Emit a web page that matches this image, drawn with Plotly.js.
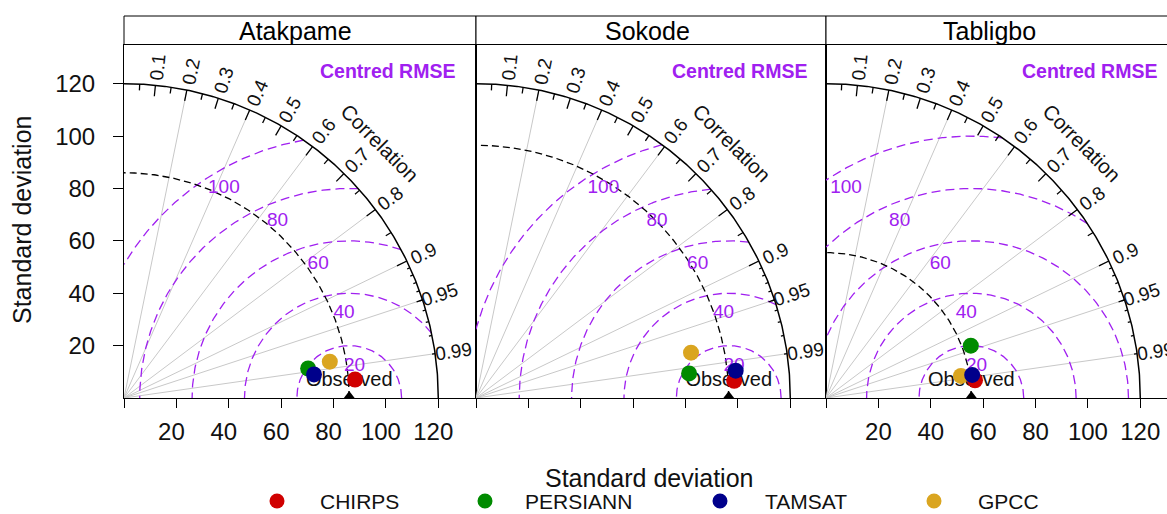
<!DOCTYPE html>
<html><head><meta charset="utf-8">
<script src="https://cdn.plot.ly/plotly-3.0.1.min.js"></script>
<style>html,body{margin:0;padding:0;background:#fff}</style>
</head><body><div id="chart" style="width:1167px;height:514px"></div>
<script>
// ---------------- data ----------------
const stations = ['Atakpame', 'Sokode', 'Tabligbo'];
const observedSD = [86, 96.5, 55.5];
const products = ['CHIRPS', 'PERSIANN', 'TAMSAT', 'GPCC'];
const productColors = ['#D00000', '#008B00', '#00008B', '#DAA520'];
const chirpsSD = [88.5, 98.8, 57.3];
const chirpsCor = [0.9968, 0.9978, 0.9930];
const persiannSD = [71.2, 81.9, 58.8];
const persiannCor = [0.9874, 0.9934, 0.9404];
const tamsatSD = [73.1, 99.7, 56.5];
const tamsatCor = [0.9924, 0.9945, 0.9878];
const gpccSD = [79.8, 83.9, 52.2];
const gpccCor = [0.9848, 0.9785, 0.9869];
const sdTicks = [0, 20, 40, 60, 80, 100, 120];
const sdTickLabels = ['', '20', '40', '60', '80', '100', '120'];
const corLabels = [0.1, 0.2, 0.3, 0.4, 0.5, 0.6, 0.7, 0.8, 0.9, 0.95, 0.99];
const corGridLines = [0.2, 0.4, 0.6, 0.8, 0.9, 0.95, 0.99];
const rmsLevels = [20, 40, 60, 80, 100];
const maxSD = 120;

// ---------------- layout constants ----------------
const W = 1167, H = 514;
const FONT = 'Liberation Sans, Arial, sans-serif';
const PURPLE = '#A020F0';
const pxPerUnit = 352 / 134.4;
const panelLeft = [124, 476, 826];
const panelRight = [476, 826, 1167];
const panelTop = 44.5, panelBottom = 398;
const yMax = (panelBottom - panelTop) / pxPerUnit;

const seriesSD = [chirpsSD, persiannSD, tamsatSD, gpccSD];
const seriesCor = [chirpsCor, persiannCor, tamsatCor, gpccCor];
const drawOrder = [0, 1, 3, 2];

const traces = [];
const annotations = [];
const shapes = [];
const layout = {
  width: W, height: H, margin: {l: 0, r: 0, t: 0, b: 0},
  paper_bgcolor: '#fff', plot_bgcolor: 'rgba(0,0,0,0)', showlegend: false,
  font: {family: FONT, color: '#111'}
};

function arcPts(cx, r, a0, a1, n) {
  const xs = [], ys = [];
  for (let k = 0; k <= n; k++) {
    const a = a0 + (a1 - a0) * k / n;
    xs.push(cx + r * Math.cos(a)); ys.push(r * Math.sin(a));
  }
  return [xs, ys];
}

stations.forEach((st, i) => {
  const sfx = i === 0 ? '' : String(i + 1);
  const xa = 'x' + sfx, ya = 'y' + sfx;
  const obs = observedSD[i];
  const xMax = (panelRight[i] - panelLeft[i]) / pxPerUnit;
  const common = {xaxis: xa, yaxis: ya, hoverinfo: 'skip', showlegend: false};

  // axes
  layout['xaxis' + sfx] = {
    domain: [panelLeft[i] / W, panelRight[i] / W], range: [0, xMax], anchor: ya,
    showgrid: false, zeroline: false, showline: true, mirror: true, linecolor: '#000', linewidth: 1,
    ticks: 'outside', ticklen: 9, tickcolor: '#000', tickwidth: 1,
    tickvals: sdTicks, ticktext: sdTickLabels, showticklabels: i !== 1,
    ticklabelshift: i === 0 ? -5 : 0, ticklabelstandoff: 3,
    tickfont: {family: FONT, size: 24, color: '#111'}, fixedrange: true
  };
  layout['yaxis' + sfx] = {
    domain: [1 - panelBottom / H, 1 - panelTop / H], range: [0, yMax], anchor: xa,
    showgrid: false, zeroline: false, showline: true, mirror: i !== 2, linecolor: '#000', linewidth: 1,
    ticks: i === 0 ? 'outside' : '', ticklen: 10, tickcolor: '#000', tickwidth: 1,
    tickvals: sdTicks.slice(1), ticktext: sdTickLabels.slice(1), showticklabels: i === 0,
    ticklabelstandoff: 13,
    tickfont: {family: FONT, size: 24, color: '#111'}, fixedrange: true
  };

  // radial correlation grid lines
  const rx = [], ry = [];
  corGridLines.forEach(c => {
    const t = Math.acos(c);
    rx.push(0, maxSD * Math.cos(t), null); ry.push(0, maxSD * Math.sin(t), null);
  });
  traces.push(Object.assign({x: rx, y: ry, mode: 'lines', line: {color: '#c8c8c8', width: 1}}, common));

  // centred RMSE contours
  rmsLevels.forEach(g => {
    const c1 = (maxSD * maxSD - obs * obs - g * g) / (2 * obs * g);
    const a0 = c1 >= 1 ? 0 : Math.acos(Math.max(-1, c1));
    const c2 = -obs / g;
    const a1 = c2 <= -1 ? Math.PI : Math.acos(c2);
    const [xs, ys] = arcPts(obs, g, a0, a1, 200);
    traces.push(Object.assign({x: xs, y: ys, mode: 'lines', line: {color: PURPLE, width: 1.3, dash: '9px,5px'}}, common));
  });

  // observed SD arc
  {
    const [xs, ys] = arcPts(0, obs, 0, Math.PI / 2, 200);
    traces.push(Object.assign({x: xs, y: ys, mode: 'lines', line: {color: '#000', width: 1.3, dash: '7px,4px'}}, common));
  }
  // outer arc
  {
    const [xs, ys] = arcPts(0, maxSD, 0, Math.PI / 2, 300);
    traces.push(Object.assign({x: xs, y: ys, mode: 'lines', line: {color: '#000', width: 1.5}}, common));
  }
  // correlation ticks
  {
    const tx = [], ty = [];
    const addTicks = (vals, f) => vals.forEach(c => {
      const t = Math.acos(c);
      tx.push(maxSD * Math.cos(t), f * maxSD * Math.cos(t), null);
      ty.push(maxSD * Math.sin(t), f * maxSD * Math.sin(t), null);
    });
    const big = [], med = [], sml = [];
    for (let k = 1; k <= 9; k++) big.push(k / 10);
    for (let k = 0; k <= 9; k++) med.push(0.05 + k / 10);
    for (let k = 1; k <= 9; k++) sml.push(0.9 + k / 100);
    addTicks(big, 0.965); addTicks(med, 0.98); addTicks(sml, 0.99);
    traces.push(Object.assign({x: tx, y: ty, mode: 'lines', line: {color: '#000', width: 1.3}}, common));
  }

  // contour labels (below the curve point)
  {
    const lx = [], ly = [], lt = [];
    rmsLevels.forEach((g, j) => {
      const a = (44 + 5 * (j + 1)) * 0.03;
      lx.push(obs + g * Math.cos(a)); ly.push(g * Math.sin(a) - 20 / pxPerUnit); lt.push(String(g));
    });
    traces.push(Object.assign({x: lx, y: ly, text: lt, mode: 'text', textposition: 'middle center',
      textfont: {family: FONT, size: 19, color: PURPLE}}, common));
  }
  // Observed label
  traces.push(Object.assign({x: [obs], y: [17 / pxPerUnit], text: ['Observed'], mode: 'text',
    textposition: 'middle center', textfont: {family: FONT, size: 20, color: '#111'}}, common));
  // Observed marker
  traces.push(Object.assign({x: [obs], y: [0], mode: 'markers', cliponaxis: true,
    marker: {symbol: 'triangle-up', size: 14, color: '#000'}}, common));

  // product points
  drawOrder.forEach(p => {
    const sd = seriesSD[p][i], r = seriesCor[p][i];
    traces.push(Object.assign({x: [sd * r], y: [sd * Math.sqrt(1 - r * r)], mode: 'markers',
      marker: {size: 16, color: productColors[p], line: {width: 0}}, name: products[p]}, common));
  });

  // correlation labels
  corLabels.forEach(c => {
    const t = Math.acos(c);
    annotations.push({xref: xa, yref: ya, x: 127 * Math.cos(t), y: 127 * Math.sin(t), text: String(c),
      showarrow: false, textangle: -t * 180 / Math.PI, xanchor: 'center', yanchor: 'middle',
      font: {family: FONT, size: 19, color: '#111'}});
  });
  annotations.push({xref: xa, yref: ya, x: 138 * Math.cos(Math.PI / 4), y: 138 * Math.sin(Math.PI / 4),
    text: 'Correlation', showarrow: false, textangle: 45, font: {family: FONT, size: 20.5, color: '#111'}});
  annotations.push({xref: xa, yref: ya, x: 100.6, y: 125, text: '<b>Centred RMSE</b>', showarrow: false,
    font: {family: FONT, size: 19.5, color: PURPLE}});

  // strip
  shapes.push({type: 'rect', xref: 'paper', yref: 'paper', x0: panelLeft[i] / W,
    x1: i === 2 ? 1.02 : panelRight[i] / W, y0: 1 - panelTop / H, y1: 1 - 16 / H,
    line: {color: '#000', width: 1}, fillcolor: '#fff', layer: 'below'});
});

const stripCenters = [295, 647, 990];
stations.forEach((st, i) => {
  annotations.push({xref: 'paper', yref: 'paper', x: stripCenters[i] / W, y: 1 - 31 / H, text: st,
    showarrow: false, xanchor: 'center', yanchor: 'middle', font: {family: FONT, size: 25, color: '#000'}});
});

// axis titles
annotations.push({xref: 'paper', yref: 'paper', x: 649 / W, y: 1 - 478 / H, text: 'Standard deviation',
  showarrow: false, xanchor: 'center', yanchor: 'middle', font: {family: FONT, size: 25, color: '#111'}});
annotations.push({xref: 'paper', yref: 'paper', x: 22 / W, y: 1 - 220 / H, text: 'Standard deviation',
  showarrow: false, textangle: -90, xanchor: 'center', yanchor: 'middle', font: {family: FONT, size: 25, color: '#111'}});

// legend
const legendMarkerX = [277, 485, 720, 934];
const legendTextX = [318, 523, 763, 976];
const legendY = 501;
products.forEach((p, k) => {
  shapes.push({type: 'circle', xref: 'paper', yref: 'paper', xsizemode: 'pixel', ysizemode: 'pixel',
    xanchor: legendMarkerX[k] / W, yanchor: 1 - legendY / H, x0: -7.5, x1: 7.5, y0: -7.5, y1: 7.5,
    fillcolor: productColors[k], line: {width: 0}});
  annotations.push({xref: 'paper', yref: 'paper', x: legendTextX[k] / W, y: 1 - legendY / H, text: p,
    showarrow: false, xanchor: 'left', yanchor: 'middle', font: {family: FONT, size: 21, color: '#111'}});
});

layout.annotations = annotations;
layout.shapes = shapes;
Plotly.newPlot('chart', traces, layout, {displayModeBar: false, staticPlot: true});
</script>
</body></html>
